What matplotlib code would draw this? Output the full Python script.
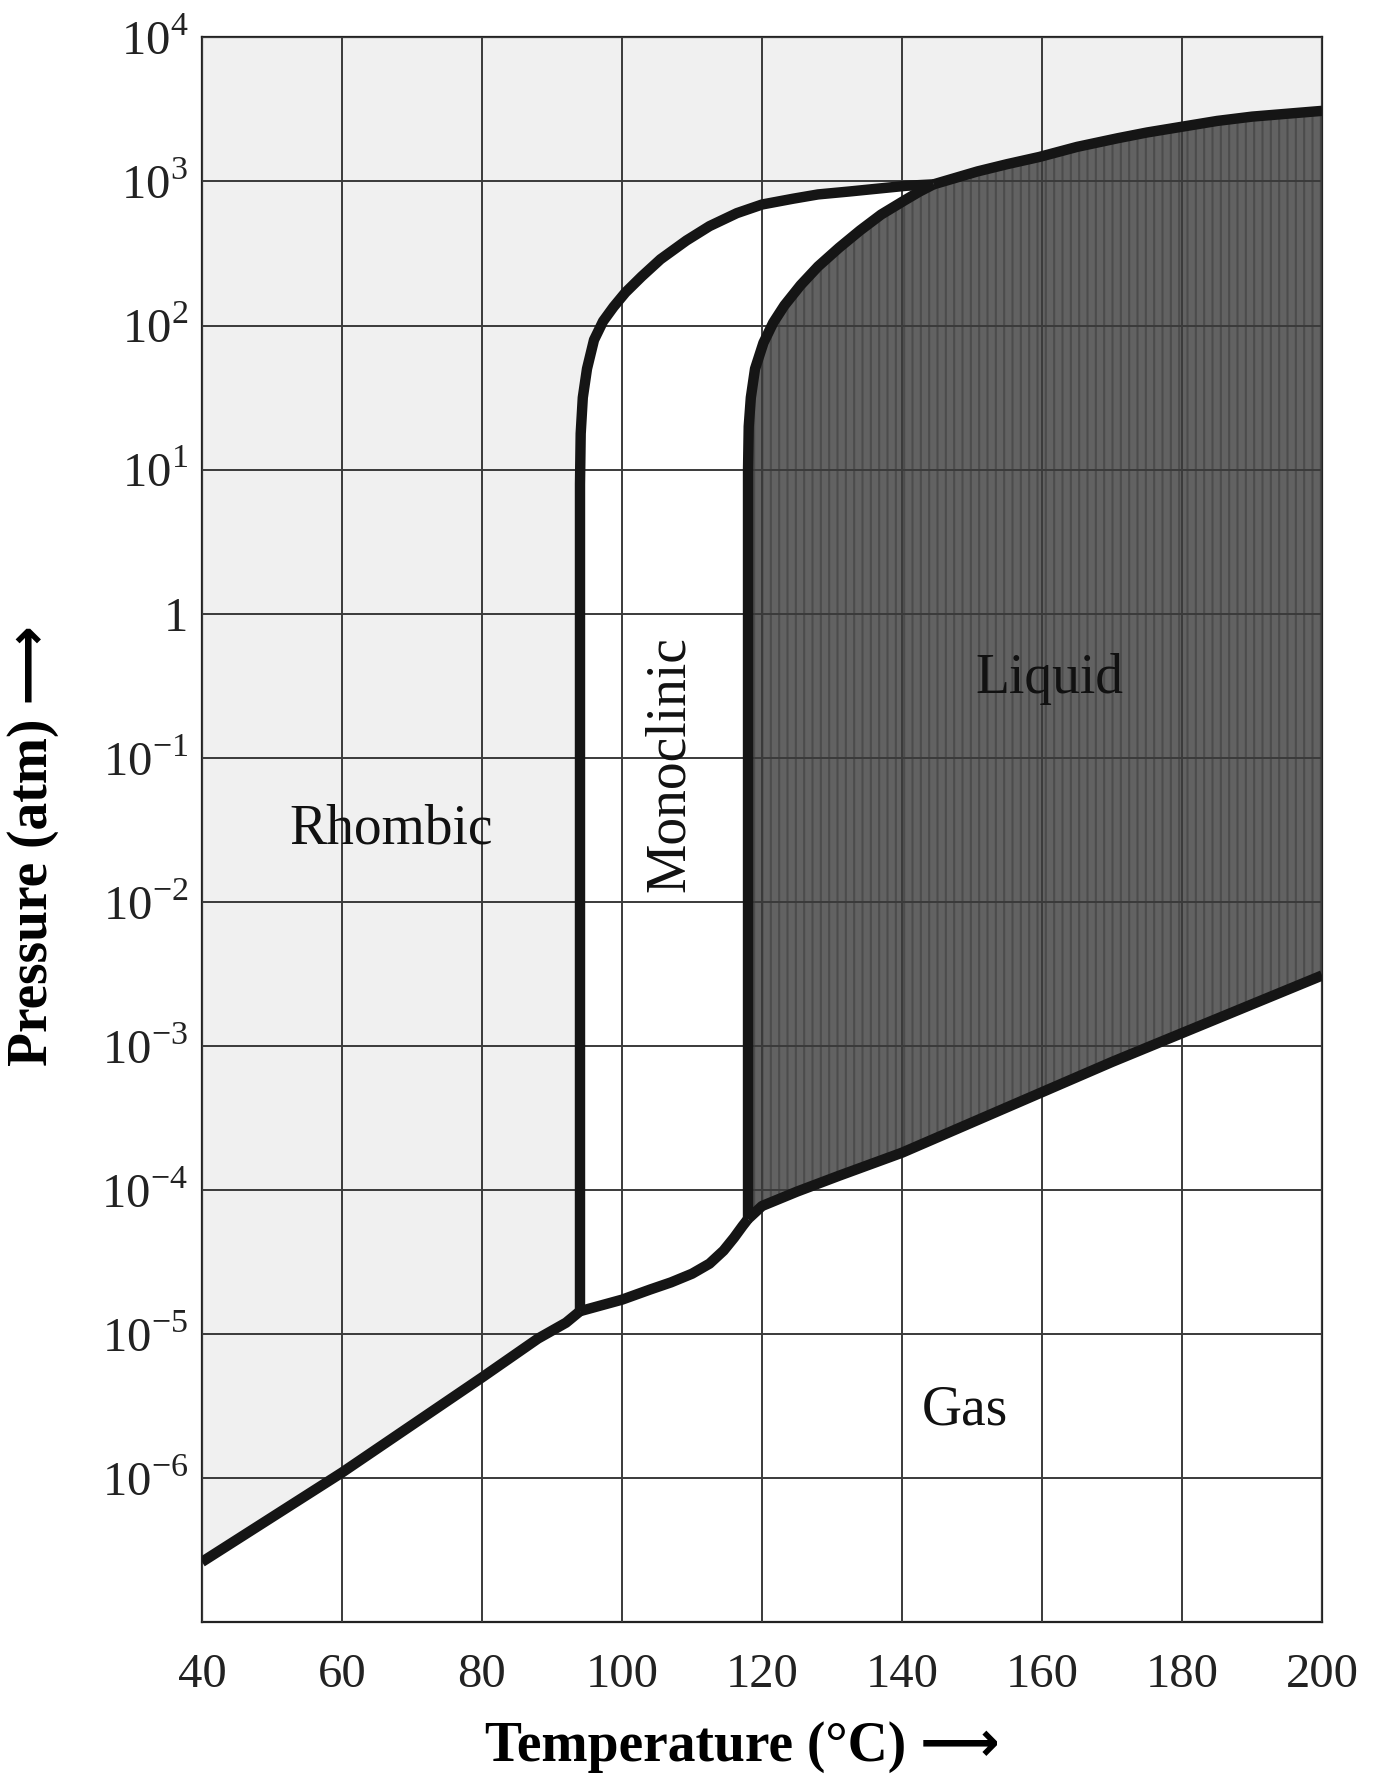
import matplotlib.pyplot as plt
import numpy as np

plt.rcParams['font.family'] = ['Liberation Serif', 'DejaVu Sans']
plt.rcParams['mathtext.fontset'] = 'custom'
plt.rcParams['mathtext.rm'] = 'Liberation Serif'
plt.rcParams['hatch.linewidth'] = 1.5

# phase boundaries, temperature in C and log10 of pressure in atm
rhombic_gas_T = [40, 50, 60, 70, 80, 88, 92, 94]
rhombic_gas_logp = [-6.58, -6.27, -5.96, -5.63, -5.30, -5.03, -4.92, -4.84]

mono_gas_T = [94, 97, 100, 104, 107, 110, 112.5, 114.5, 116, 117.2, 118]
mono_gas_logp = [-4.84, -4.80, -4.76, -4.69, -4.64, -4.58, -4.51, -4.42, -4.33, -4.25, -4.20]

liquid_gas_T = [118, 120, 125, 131, 140, 150, 160, 170, 180, 190, 200]
liquid_gas_logp = [-4.20, -4.11, -4.01, -3.90, -3.74, -3.53, -3.32, -3.11, -2.91, -2.71, -2.51]

rhombic_mono_T = [94, 94, 94.1, 94.4, 95, 96, 97.3, 98.8, 100.5, 102.8, 105.5, 109.2, 112.5, 116.4, 120, 124.4, 128, 132.4, 136.5, 140.6, 144.5]
rhombic_mono_logp = [-4.84, 0.9, 1.25, 1.5, 1.7, 1.9, 2.03, 2.13, 2.23, 2.34, 2.46, 2.59, 2.69, 2.78, 2.84, 2.88, 2.91, 2.93, 2.95, 2.97, 2.98]

mono_liquid_T = [118, 118, 118.1, 118.4, 119, 120.2, 121.6, 123.2, 125.5, 128, 131, 134, 137, 140.4, 142.5, 144.5]
mono_liquid_logp = [-4.20, 1.0, 1.3, 1.5, 1.7, 1.88, 2.02, 2.14, 2.28, 2.41, 2.54, 2.66, 2.77, 2.87, 2.93, 2.98]

rhombic_liquid_T = [144.5, 150.8, 155, 159.6, 165, 170.8, 175, 180, 185, 190, 195, 200]
rhombic_liquid_logp = [2.98, 3.07, 3.12, 3.17, 3.24, 3.30, 3.34, 3.38, 3.42, 3.45, 3.47, 3.49]

x_ticks = [40, 60, 80, 100, 120, 140, 160, 180, 200]
y_exps = [-6, -5, -4, -3, -2, -1, 0, 1, 2, 3, 4]
y_labels = ['$10^{-6}$', '$10^{-5}$', '$10^{-4}$', '$10^{-3}$', '$10^{-2}$',
            '$10^{-1}$', '1', '$10^{1}$', '$10^{2}$', '$10^{3}$', '$10^{4}$']

regions = ['Rhombic', 'Monoclinic', 'Liquid', 'Gas']
region_T = [67, 106.8, 161, 149]
region_logp = [-1.5, -1.04, -0.45, -5.53]


def p(v):
    return 10.0 ** np.asarray(v, dtype=float)


fig = plt.figure(figsize=(13.83, 17.79), dpi=100)
ax = fig.add_axes([0.146, 0.088, 0.81, 0.891])
ax.set_yscale('log')
ax.set_xlim(40, 200)
ax.set_ylim(1e-7, 1e4)
ax.set_facecolor('#f0f0f0')

# gas region: white below the sublimation / vaporisation curves
gas_T = rhombic_gas_T + mono_gas_T[1:] + liquid_gas_T[1:]
gas_logp = rhombic_gas_logp + mono_gas_logp[1:] + liquid_gas_logp[1:]
ax.fill_between(gas_T, 1e-8, p(gas_logp), color='white', lw=0, zorder=1)

# monoclinic region
mono_T = rhombic_mono_T + mono_liquid_T[::-1] + mono_gas_T[::-1]
mono_logp = rhombic_mono_logp + mono_liquid_logp[::-1] + mono_gas_logp[::-1]
ax.fill(mono_T, p(mono_logp), color='white', lw=0, zorder=1)

# liquid region
liq_T = mono_liquid_T + rhombic_liquid_T[1:] + liquid_gas_T[::-1]
liq_logp = mono_liquid_logp + rhombic_liquid_logp[1:] + liquid_gas_logp[::-1]
ax.fill(liq_T, p(liq_logp), facecolor='#626262', edgecolor='#4c4c4c',
        hatch='||', lw=0, zorder=1)

ax.set_axisbelow(False)
ax.grid(True, color='#3a3a3a', lw=1.4)

lw = 7.5
for T, lp in [(rhombic_gas_T, rhombic_gas_logp), (mono_gas_T, mono_gas_logp),
              (liquid_gas_T, liquid_gas_logp), (rhombic_mono_T, rhombic_mono_logp),
              (mono_liquid_T, mono_liquid_logp), (rhombic_liquid_T, rhombic_liquid_logp)]:
    ax.plot(T, p(lp), color='#151515', lw=lw, solid_capstyle='butt',
            solid_joinstyle='round', zorder=4, clip_on=True)

for name, T, lp in zip(regions, region_T, region_logp):
    ax.text(T, 10 ** lp, name, fontsize=40, ha='center', va='center',
            rotation=90 if name == 'Monoclinic' else 0, color='#111111', zorder=5)

ax.set_xticks(x_ticks)
ax.set_xticklabels([str(t) for t in x_ticks])
ax.set_yticks(p(y_exps))
ax.set_yticklabels(y_labels)
ax.minorticks_off()
ax.tick_params(length=0, labelsize=35, colors='#222222')
ax.tick_params(axis='x', pad=22)
ax.tick_params(axis='y', pad=10)
for s in ax.spines.values():
    s.set_color('#222222')
    s.set_linewidth(1.6)

fig.text(0.537, 0.018, 'Temperature (°C) \u27f6', fontsize=40, fontweight='bold',
         ha='center', va='center')
fig.text(0.024, 0.525, 'Pressure (atm) \u27f6', fontsize=40, fontweight='bold',
         ha='center', va='center', rotation=90)

fig.savefig('out.png', dpi=100)
